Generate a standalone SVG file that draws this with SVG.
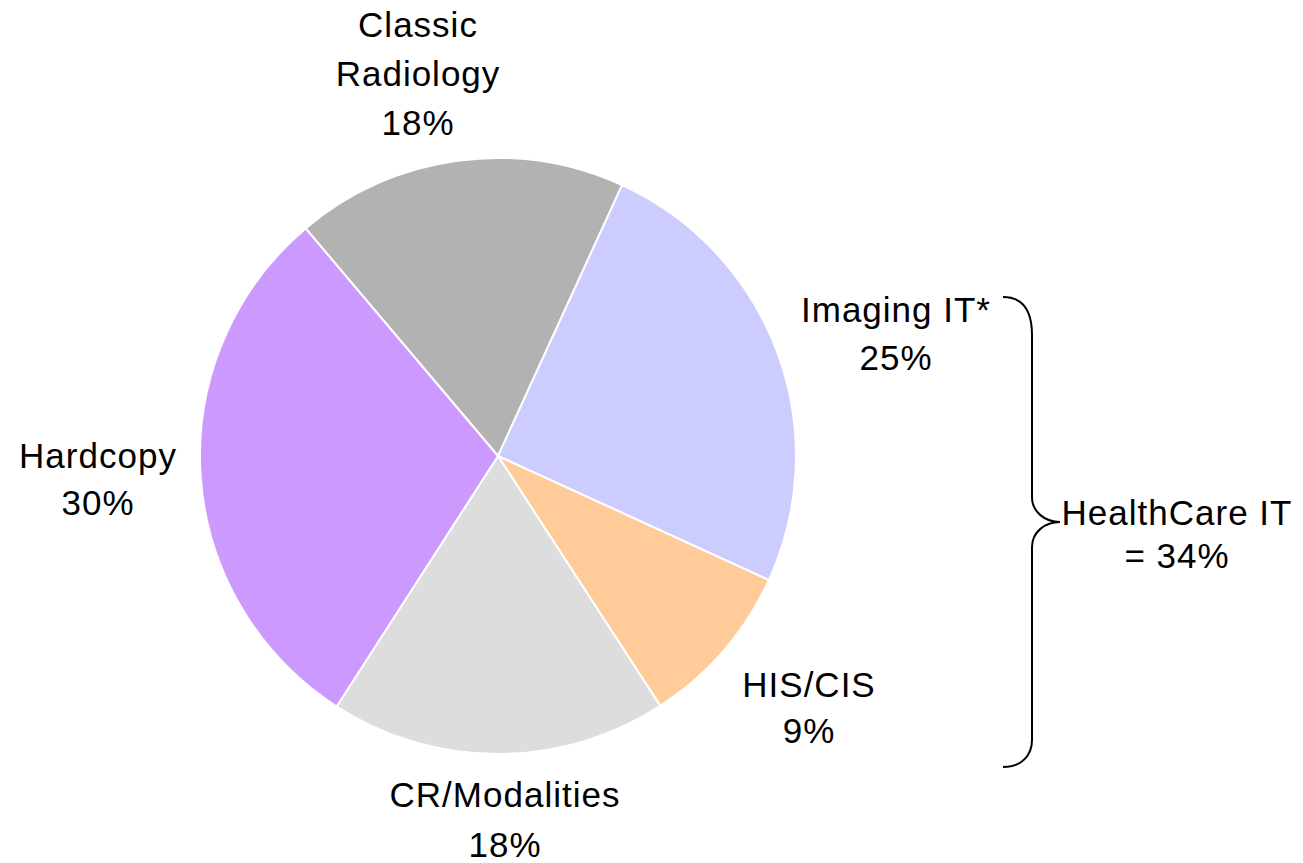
<svg xmlns="http://www.w3.org/2000/svg" width="1303" height="863" viewBox="0 0 1303 863">
<style>
.slice{stroke:#FFFFFF;stroke-width:2;stroke-linejoin:round}
.lbl{font-family:"Liberation Sans",Arial,sans-serif;font-size:35px;letter-spacing:1px;fill:#000000;text-anchor:middle}
.brace{fill:none;stroke:#000000;stroke-width:2}
</style>
<rect width="1303" height="863" fill="#FFFFFF"/>
<g id="slice-classic-radiology">
<path class="slice" fill="#B2B2B2" d="M498,456 L305.6,228.4 A298,298 0 0 1 622.1,185.1 Z"/>
</g>
<g id="slice-imaging-it">
<path class="slice" fill="#CCCCFF" d="M498,456 L622.1,185.1 A298,298 0 0 1 768.9,580.1 Z"/>
</g>
<g id="slice-his-cis">
<path class="slice" fill="#FFCC99" d="M498,456 L768.9,580.1 A298,298 0 0 1 660.3,705.9 Z"/>
</g>
<g id="slice-cr-modalities">
<path class="slice" fill="#DDDDDD" d="M498,456 L660.3,705.9 A298,298 0 0 1 336.6,706.5 Z"/>
</g>
<g id="slice-hardcopy">
<path class="slice" fill="#CC99FF" d="M498,456 L336.6,706.5 A298,298 0 0 1 305.6,228.4 Z"/>
</g>
<g id="label-classic-radiology">
<text class="lbl" x="418" y="37">Classic</text>
<text class="lbl" x="418" y="86">Radiology</text>
<text class="lbl" x="418" y="135">18%</text>
</g>
<g id="label-imaging-it">
<text class="lbl" x="896" y="322">Imaging IT*</text>
<text class="lbl" x="896" y="370">25%</text>
</g>
<g id="label-hardcopy">
<text class="lbl" x="98" y="468">Hardcopy</text>
<text class="lbl" x="98" y="515">30%</text>
</g>
<g id="label-his-cis">
<text class="lbl" x="809" y="697">HIS/CIS</text>
<text class="lbl" x="809" y="743">9%</text>
</g>
<g id="label-cr-modalities">
<text class="lbl" x="505" y="807">CR/Modalities</text>
<text class="lbl" x="505" y="857">18%</text>
</g>
<g id="healthcare-it">
<path class="brace" d="M1003,297 C1022,297 1032,310 1032,335 L1032,497 C1032,512 1045,522 1060,522 C1045,522 1032,532 1032,547 L1032,740 C1032,755 1022,767 1003,767"/>
<text class="lbl" x="1177" y="525">HealthCare IT</text>
<text class="lbl" x="1177" y="568">= 34%</text>
</g>
</svg>
